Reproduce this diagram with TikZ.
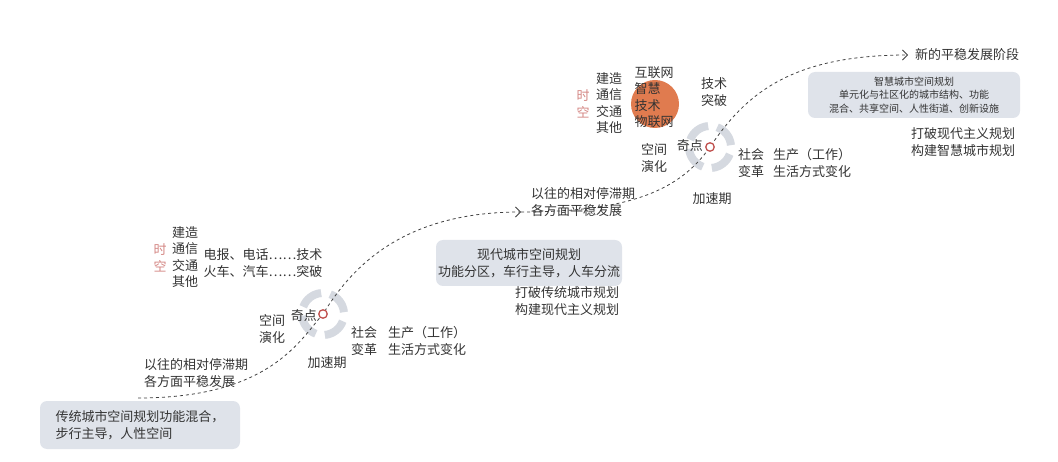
\documentclass[tikz,border=0pt]{standalone}
\usepackage{fontspec}
\newfontfamily\cjk{Noto Sans CJK SC}
\usetikzlibrary{arrows.meta}
\definecolor{boxc}{HTML}{DFE3EA}
\definecolor{ringc}{HTML}{D5D9E0}
\definecolor{redc}{HTML}{C0504D}
\definecolor{orc}{HTML}{E07B4F}
\definecolor{txt}{HTML}{333333}
\tikzset{
 t/.style={font=\cjk\fontsize{13}{16.5}\selectfont, text=txt, inner sep=0pt, align=left},
 ts/.style={font=\cjk\fontsize{10}{13.5}\selectfont, text=txt, inner sep=0pt, align=center},
 bx/.style={fill=boxc, rounded corners=7pt, draw=none},
 curve/.style={dashed, thick, color=black!75, -{Straight Barb[length=5pt]}},
 ring/.style={ringc, line width=8pt},
}
\begin{document}
\begin{tikzpicture}[x=1pt,y=-1pt]
\useasboundingbox (0,0) rectangle (1058,462);
% rings
\foreach \cx/\cy in {323/314, 710/147}{
 \foreach \a in {20,110,200,290}{
  \draw[ring] (\cx,\cy) ++(\a:21) arc[start angle=\a, end angle=\a+65, radius=21];
 }
}
% boxes
\node[bx, minimum width=200, minimum height=48] (b1) at (140,425) {};
\node[t, align=left] at (b1) {传统城市空间规划功能混合，\\步行主导，人性空间};
\node[bx, minimum width=186, minimum height=46] (b2) at (529,263) {};
\node[t, align=center] at (b2) {现代城市空间规划\\功能分区，车行主导，人车分流};
\node[bx, minimum width=212, minimum height=46] (b3) at (914,95) {};
\node[ts] at (b3) {智慧城市空间规划\\单元化与社区化的城市结构、功能\\混合、共享空间、人性街道、创新设施};
% curves
\coordinate (s1) at (138,398);
\coordinate (p1) at (323,314);
\coordinate (e1) at (521,212);
\coordinate (p2) at (710,147);
\coordinate (e2) at (908,55);
\draw[curve] (s1) .. controls (270,398) and (300,340) .. (p1) .. controls (350,270) and (400,212) .. (e1);
\draw[curve] (e1) .. controls (630,212) and (680,190) .. (p2) .. controls (745,95) and (790,55) .. (e2);
\node[circle, draw=redc, line width=1.3pt, fill=white, inner sep=3pt] (q1) at (p1) {};
\node[circle, draw=redc, line width=1.3pt, fill=white, inner sep=3pt] (q2) at (p2) {};
\node[t, anchor=west] at (915,55) {新的平稳发展阶段};
% stage 1 labels
\node[t] at (185,257) {建造\\通信\\交通\\其他};
\node[t, text=redc!70] at (160,258) {时\\空};
\node[t] at (263,263) {电报、电话……技术\\火车、汽车……突破};
\node[t] at (272,329) {空间\\演化};
\node[t, anchor=east] at (317,316) {奇点};
\node[t] at (364,341) {社会\\变革};
\node[t, anchor=west] at (388,341) {生产（工作）\\生活方式变化};
\node[t] at (327,363) {加速期};
\node[t] at (196,373) {以往的相对停滞期\\各方面平稳发展};
\node[t] at (567,301) {打破传统城市规划\\构建现代主义规划};
% stage 2 labels
\node[t] at (583,202) {以往的相对停滞期\\各方面平稳发展};
\node[t] at (712,199) {加速期};
\node[t] at (751,163) {社会\\变革};
\node[t, anchor=west] at (773,163) {生产（工作）\\生活方式变化};
\node[t] at (654,158) {空间\\演化};
\node[t, anchor=east] at (703,146) {奇点};
\node[t] at (714,92) {技术\\突破};
\node[circle, fill=orc, minimum size=48] (oc) at (655,104) {};
\node[t] at (654,97) {互联网\\智慧\\技术\\物联网};
\node[t] at (609,103) {建造\\通信\\交通\\其他};
\node[t, text=redc!70] at (583,104) {时\\空};
\node[t] at (963,142) {打破现代主义规划\\构建智慧城市规划};
\end{tikzpicture}
\end{document}
